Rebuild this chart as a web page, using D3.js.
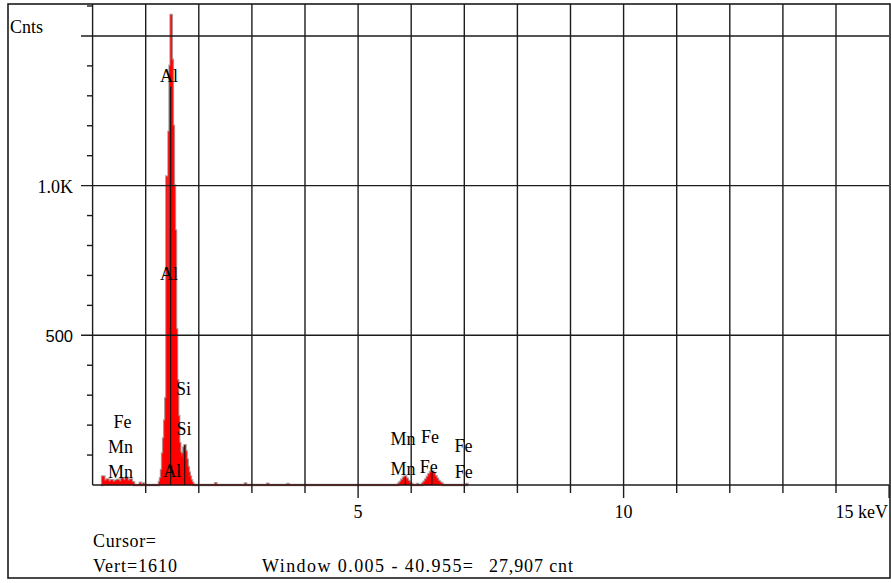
<!DOCTYPE html>
<html>
<head>
<meta charset="utf-8">
<script src="https://cdn.jsdelivr.net/npm/d3@7"></script>
<style>
  body { margin: 0; background: #fff; }
  svg { display: block; }
  text { font-family: "Liberation Serif", "Times New Roman", serif; font-size: 18px; fill: #000; }
</style>
</head>
<body>
<svg id="chart" width="891" height="583"></svg>
<script>
// ---- Spectrum data (energy in keV, counts) ----
const spectrumEnergy = [
  0.16, 0.20, 0.24, 0.28, 0.32, 0.36, 0.40, 0.44, 0.48, 0.52, 0.56, 0.60, 0.64, 0.68, 0.72, 0.76, 0.80,
  0.88, 0.90, 0.92, 0.94, 0.96, 0.98,
  1.24, 1.26, 1.28, 1.30, 1.32, 1.34, 1.36, 1.38, 1.40, 1.42, 1.44, 1.46, 1.48, 1.50, 1.52, 1.54, 1.56,
  1.58, 1.60, 1.62, 1.64, 1.66, 1.68, 1.70, 1.72, 1.74, 1.76, 1.78, 1.80, 1.82, 1.84, 1.86, 1.88, 1.90, 1.92,
  2.30, 2.32, 2.34, 2.86, 2.88, 2.90, 3.28, 3.30, 3.32, 3.66, 3.68, 3.70,
  5.74, 5.77, 5.80, 5.83, 5.86, 5.89, 5.92, 5.95, 5.98, 6.01, 6.04,
  6.10, 6.12, 6.14,
  6.19, 6.22, 6.25, 6.28, 6.31, 6.34, 6.37, 6.40, 6.43, 6.46, 6.49, 6.52, 6.55, 6.58, 6.61,
  7.03, 7.05, 7.07
];
const spectrumCounts = [
  0, 28, 14, 18, 12, 16, 10, 14, 17, 12, 22, 16, 24, 14, 18, 9, 0,
  0, 7, 0, 0, 5, 0,
  0, 10, 22, 50, 105, 155, 215, 290, 1030, 700, 1180, 1400, 1570, 1420, 1200, 1000, 850,
  520, 350, 230, 140, 108, 95, 105, 125, 133, 112, 85, 60, 42, 28, 16, 8, 3, 0,
  0, 6, 0, 0, 5, 0, 0, 4, 0, 0, 3, 0,
  0, 4, 10, 17, 24, 28, 21, 13, 7, 3, 0,
  0, 3, 0,
  0, 5, 11, 18, 27, 36, 43, 45, 38, 29, 21, 13, 8, 4, 0,
  0, 3, 0
];

// ---- Element line markers (energy, top count) ----
const markerEnergy = [1.47, 1.735, 5.89, 6.39];
const markerTop = [1330, 133, 25, 40];

// ---- Element labels (text, centre energy, baseline count) ----
const labelText   = ["Al", "Al", "Al", "Si", "Si", "Fe", "Mn", "Mn", "Mn", "Mn", "Fe", "Fe", "Fe", "Fe"];
const labelEnergy = [1.44, 1.44, 1.50, 1.71, 1.72, 0.563, 0.525, 0.525, 5.845, 5.845, 6.354, 6.33, 6.985, 6.99];
const labelCount  = [1346, 685, 27, 300, 167, 190, 107, 23, 134, 33, 140, 40, 110, 23];

// ---- Axis tick values / labels ----
const xGridValues = [1, 2, 3, 4, 5, 6, 7, 8, 9, 10, 11, 12, 13, 14];
const xMinorTicks = [1, 2, 3, 4, 6, 7, 8, 9, 11, 12, 13, 14];
const xMajorTicks = [5, 10, 15];
const xTickLabels = ["5", "10", "15 keV"];
const yMajorTicks = [500, 1000, 1500];
const yMinorTicks = [100, 200, 300, 400, 600, 700, 800, 900, 1100, 1200, 1300, 1400, 1600];
const yTickLabels = ["500", "1.0K", ""];

// ---- Status lines under the chart ----
const statusText = ["Cursor=", "Vert=1610", "Window 0.005 - 40.955=", "27,907 cnt"];

const svg = d3.select("#chart");
const x = d3.scaleLinear().domain([0, 15]).range([92.6, 889.1]);
const y = d3.scaleLinear().domain([0, 1600]).range([485, 6]);

const lineColor = "#1c1c1c";

// outer frame
svg.append("rect").attr("x", 8).attr("y", 4).attr("width", 882).attr("height", 574)
  .attr("fill", "none").attr("stroke", lineColor).attr("stroke-width", 1.6);

// spectrum
const data = spectrumEnergy.map((e, i) => ({ e, c: spectrumCounts[i] }));
const area = d3.area().x(d => x(d.e)).y0(y(0)).y1(d => y(d.c)).curve(d3.curveStep);
const line = d3.line().x(d => x(d.e)).y(d => y(d.c)).curve(d3.curveStep);
svg.append("path").datum(data).attr("d", line)
  .attr("fill", "none").attr("stroke", "#a6a6a6").attr("stroke-width", 2.6);
svg.append("path").datum(data).attr("d", area)
  .attr("fill", "#ff0000").attr("stroke", "#ff0000").attr("stroke-width", 0.6);

// vertical grid lines
svg.append("g").selectAll("line").data(xGridValues).join("line")
  .attr("x1", d => x(d)).attr("x2", d => x(d)).attr("y1", 4).attr("y2", y(0))
  .attr("stroke", lineColor).attr("stroke-width", 1.4);

// horizontal grid lines
svg.append("g").selectAll("line").data(yMajorTicks).join("line")
  .attr("x1", 81).attr("x2", x(15)).attr("y1", d => y(d)).attr("y2", d => y(d))
  .attr("stroke", lineColor).attr("stroke-width", 1.4);

// y axis line and minor ticks
svg.append("line").attr("x1", x(0)).attr("x2", x(0)).attr("y1", 4).attr("y2", y(0))
  .attr("stroke", lineColor).attr("stroke-width", 1.4);
svg.append("g").selectAll("line").data(yMinorTicks).join("line")
  .attr("x1", 87).attr("x2", x(0)).attr("y1", d => y(d)).attr("y2", d => y(d))
  .attr("stroke", lineColor).attr("stroke-width", 1.4);

// x axis line and ticks
svg.append("line").attr("x1", x(0)).attr("x2", x(15)).attr("y1", y(0)).attr("y2", y(0))
  .attr("stroke", lineColor).attr("stroke-width", 1.6);
svg.append("g").selectAll("line").data(xMinorTicks).join("line")
  .attr("x1", d => x(d)).attr("x2", d => x(d)).attr("y1", y(0)).attr("y2", y(0) + 8)
  .attr("stroke", lineColor).attr("stroke-width", 1.4);
svg.append("g").selectAll("line").data(xMajorTicks).join("line")
  .attr("x1", d => x(d)).attr("x2", d => x(d)).attr("y1", y(0)).attr("y2", y(0) + 13)
  .attr("stroke", lineColor).attr("stroke-width", 1.4);

// element markers
svg.append("g").selectAll("line").data(markerEnergy).join("line")
  .attr("x1", d => x(d)).attr("x2", d => x(d))
  .attr("y1", (d, i) => y(markerTop[i])).attr("y2", y(0))
  .attr("stroke", "#111").attr("stroke-width", 1.1);
svg.append("circle").attr("cx", x(markerEnergy[0])).attr("cy", y(60)).attr("r", 1.8).attr("fill", "#111");

// element labels
svg.append("g").selectAll("text").data(labelText).join("text")
  .attr("x", (d, i) => x(labelEnergy[i])).attr("y", (d, i) => y(labelCount[i]))
  .attr("text-anchor", "middle").text(d => d);

// x tick labels
svg.append("g").selectAll("text").data(xMajorTicks).join("text")
  .attr("x", (d, i) => i === 2 ? x(d) - 1 : x(d))
  .attr("y", 518)
  .attr("text-anchor", (d, i) => i === 2 ? "end" : "middle")
  .text((d, i) => xTickLabels[i]);

// y tick labels
svg.append("g").selectAll("text").data(yMajorTicks).join("text")
  .attr("x", 73).attr("y", d => y(d) + (d === 500 ? 6.5 : 7.5))
  .attr("text-anchor", "end")
  .style("font-family", d => d === 500 ? "'Liberation Sans', Arial, sans-serif" : null)
  .style("font-size", d => d === 500 ? "16.5px" : null)
  .text((d, i) => yTickLabels[i]);

svg.append("text").attr("x", 10).attr("y", 33).text("Cnts");

// bottom status text
const statusX = [93, 93, 262, 489];
const statusY = [547, 572, 572, 572];
const statusW = [63, 84, 211, 84];
svg.append("g").selectAll("text").data(statusText).join("text")
  .attr("x", (d, i) => statusX[i]).attr("y", (d, i) => statusY[i])
  .attr("textLength", (d, i) => statusW[i]).attr("lengthAdjust", "spacing")
  .text(d => d);
</script>
</body>
</html>
